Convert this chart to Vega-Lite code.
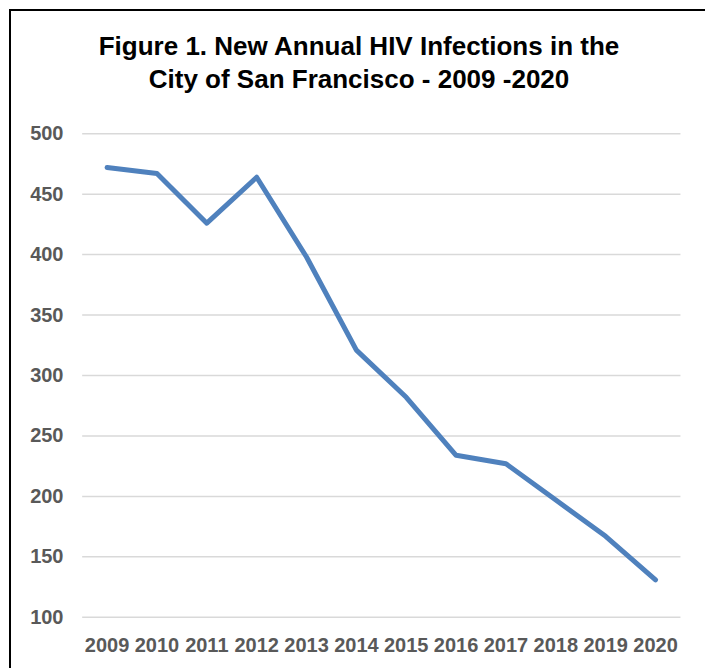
{
  "$schema": "https://vega.github.io/schema/vega-lite/v6.json",
  "width": 698,
  "height": 661,
  "autosize": {"type": "none"},
  "padding": {"left": 10, "top": 10, "right": -3, "bottom": -3},
  "background": "white",
  "config": {
    "view": {"stroke": "black", "strokeWidth": 2},
    "font": "Liberation Sans",
    "axisX": {
      "title": null,
      "offset": -20,
      "labelPadding": 0,
      "ticks": false,
      "tickSize": 0,
      "domain": false,
      "grid": false,
      "labelAngle": 0,
      "labelOverlap": false,
      "labelBaseline": "alphabetic",
      "labelFont": "Liberation Sans",
      "labelFontSize": 20,
      "labelFontWeight": "bold",
      "labelColor": "#595959"
    },
    "axisY": {
      "title": null,
      "offset": -61,
      "labelPadding": 8,
      "ticks": false,
      "tickSize": 0,
      "domain": false,
      "grid": false,
      "labelAlign": "right",
      "labelBaseline": "middle",
      "labelOverlap": false,
      "labelFont": "Liberation Sans",
      "labelFontSize": 20,
      "labelFontWeight": "bold",
      "labelColor": "#595959"
    }
  },
  "title": {
    "text": ["Figure 1. New Annual HIV Infections in the", "City of San Francisco - 2009 -2020"],
    "fontSize": 26,
    "fontWeight": "bold",
    "color": "black",
    "font": "Liberation Sans",
    "anchor": "middle",
    "frame": "group",
    "offset": -104,
    "baseline": "alphabetic",
    "lineHeight": 33
  },
  "datasets": {
    "hiv": [
      {"year": "2009", "n": 472},
      {"year": "2010", "n": 467},
      {"year": "2011", "n": 426},
      {"year": "2012", "n": 464},
      {"year": "2013", "n": 398},
      {"year": "2014", "n": 321},
      {"year": "2015", "n": 282},
      {"year": "2016", "n": 234},
      {"year": "2017", "n": 227},
      {"year": "2018", "n": 197},
      {"year": "2019", "n": 167},
      {"year": "2020", "n": 131}
    ],
    "grid": [
      {"v": 100}, {"v": 150}, {"v": 200}, {"v": 250}, {"v": 300},
      {"v": 350}, {"v": 400}, {"v": 450}, {"v": 500}
    ]
  },
  "layer": [
    {
      "data": {"name": "grid"},
      "mark": {"type": "rule", "color": "#D9D9D9", "strokeWidth": 1.5},
      "encoding": {
        "y": {"field": "v", "type": "quantitative", "title": null,
              "axis": {"values": [100, 150, 200, 250, 300, 350, 400, 450, 500]}},
        "x": {"datum": "2009", "type": "ordinal", "bandPosition": 0, "title": null},
        "x2": {"datum": "2020", "bandPosition": 1}
      }
    },
    {
      "data": {"name": "hiv"},
      "mark": {"type": "line", "color": "#4F81BD", "strokeWidth": 5, "strokeCap": "round", "strokeJoin": "round"},
      "encoding": {
        "x": {
          "field": "year",
          "type": "ordinal",
          "title": null,
          "scale": {"type": "band", "paddingInner": 0, "paddingOuter": 1.0624, "align": 0.7238}
        },
        "y": {
          "field": "n",
          "type": "quantitative",
          "title": null,
          "scale": {"domain": [55.6, 602.3], "nice": false, "zero": false},
          "axis": {"values": [100, 150, 200, 250, 300, 350, 400, 450, 500]}
        }
      }
    }
  ]
}
